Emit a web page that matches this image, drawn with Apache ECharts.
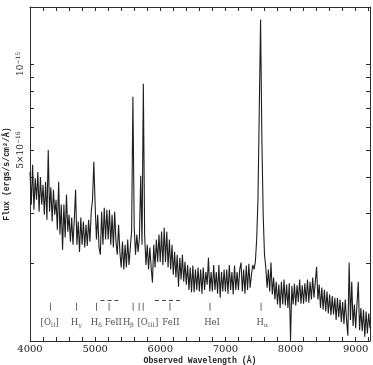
<!DOCTYPE html>
<html>
<head>
<meta charset="utf-8">
<script src="https://cdn.jsdelivr.net/npm/echarts@6/dist/echarts.min.js"></script>
<style>
  html, body { margin: 0; padding: 0; background: #fff; }
  #chart { width: 373px; height: 365px; }
</style>
</head>
<body>
<div id="chart"></div>
<script>
// observed spectrum, flux in units of 1e-16 ergs/s/cm2/A, one sample every 20 A from 4000 A
const waveStart = 4000;
const waveStep = 20;
const flux = [
  4.19, 3.22, 4.44, 3.09, 3.98, 3.35, 4.19, 3.04, 4.02, 3.22,
  3.78, 2.97, 3.87, 2.85, 5.00, 3.04, 3.70, 2.81, 3.63, 2.97,
  3.35, 2.63, 3.87, 2.53, 3.22, 2.24, 3.22, 2.47, 3.49, 2.59,
  2.97, 2.39, 2.90, 2.33, 2.85, 3.63, 2.33, 2.81, 2.20, 2.90,
  2.33, 2.81, 2.28, 2.74, 2.31, 2.85, 2.39, 3.04, 3.35, 4.55,
  3.22, 2.43, 2.97, 2.28, 2.15, 3.04, 2.33, 3.14, 2.43, 3.09,
  2.43, 3.09, 2.33, 2.97, 2.28, 3.04, 2.39, 2.15, 2.74, 2.20,
  1.94, 2.39, 1.91, 2.33, 1.94, 2.43, 1.98, 2.28, 2.59, 7.68,
  2.67, 2.15, 2.53, 2.20, 2.47, 4.06, 2.33, 8.53, 2.53, 1.98,
  2.33, 1.91, 2.28, 1.94, 1.72, 2.33, 1.94, 2.43, 2.03, 2.53,
  2.03, 2.59, 1.98, 2.67, 2.03, 2.59, 1.94, 2.43, 1.91, 2.33,
  1.83, 2.20, 1.79, 2.15, 1.66, 2.10, 1.76, 2.15, 1.73, 2.03,
  1.69, 1.98, 1.62, 1.94, 1.59, 1.97, 1.59, 1.91, 1.62, 1.94,
  1.60, 1.91, 1.57, 1.94, 1.62, 1.87, 1.69, 2.10, 1.60, 1.87,
  1.60, 1.98, 1.62, 1.87, 1.57, 1.98, 1.52, 1.87, 1.60, 1.91,
  1.60, 1.91, 1.57, 1.98, 1.62, 1.87, 1.56, 1.97, 1.62, 1.87,
  1.62, 1.91, 2.02, 1.60, 1.91, 1.57, 1.97, 1.62, 2.00, 1.65,
  1.83, 1.98, 1.91, 2.03, 2.43, 3.35, 6.91, 14.3, 5.43, 2.97,
  2.15, 1.94, 1.65, 1.91, 1.60, 2.02, 1.56, 1.79, 1.50, 1.73,
  1.44, 1.69, 1.40, 1.73, 1.44, 1.76, 1.43, 1.69, 1.40, 1.71,
  1.08, 1.67, 1.44, 1.70, 1.43, 1.68, 1.47, 1.76, 1.45, 1.68,
  1.45, 1.71, 1.47, 1.76, 1.46, 1.73, 1.50, 1.79, 1.52, 1.73,
  1.95, 1.50, 1.69, 1.40, 1.65, 1.38, 1.62, 1.36, 1.60, 1.34,
  1.56, 1.32, 1.54, 1.33, 1.52, 1.27, 1.52, 1.30, 1.50, 1.25,
  1.47, 1.23, 1.50, 1.27, 1.12, 2.02, 1.27, 1.73, 1.21, 1.44,
  1.19, 1.44, 1.73, 1.17, 1.40, 1.16, 1.38, 1.11, 1.36, 1.14,
  1.34, 1.19
];

// axis ranges and ticks
const waveMin = 4000;
const waveMax = 9220;
const waveLabels = [4000, 5000, 6000, 7000, 8000, 9000];
const fluxMin = 1.073;
const fluxMax = 15.83;
const fluxTicks = [2, 3, 4, 5, 6, 7, 8, 9, 10];
const fluxLabels = [5, 10];

// line identifications
const lineTickWave = [4314, 4714, 5021, 5215, 5584, 5676, 5738, 6149, 6764, 7548];
const lineLabelWave = [4303, 4711, 5018, 5280, 5510, 5810, 6164, 6795, 7565];
const lineLabelText = ['[O{sub|II}]', 'H{sub|γ}', 'H{sub|δ}', 'FeII', 'H{sub|β}', '[O{sub|III}]', 'FeII', 'HeI', 'H{sub|α}'];
const feIIRanges = [[5083, 5353], [5918, 6303]];

const lg = (v) => Math.log10(v);
const ink = '#2b2b2b';
const serif = 'DejaVu Serif';
const mono = 'Liberation Mono';

// annotation levels (flux units)
const dashLevel = 1.496;
const tickLevel = 1.414;
const labelLevel = 1.243;

const minorWave = [];
for (let w = 4000; w <= 9200; w += 200) minorWave.push(w);

const specData = flux.map((f, i) => [waveStart + i * waveStep, lg(f)]);

const chart = echarts.init(document.getElementById('chart'));

const xBase = {
  type: 'value',
  min: waveMin,
  max: waveMax,
  axisLine: { show: true, onZero: false, lineStyle: { color: ink, width: 1 } },
  axisTick: { show: true, inside: true, length: 4, customValues: minorWave, lineStyle: { color: ink } },
  splitLine: { show: false }
};
const yBase = {
  type: 'value',
  min: lg(fluxMin),
  max: lg(fluxMax),
  axisLine: { show: true, onZero: false, lineStyle: { color: ink, width: 1 } },
  axisTick: { show: true, inside: true, length: 4, customValues: fluxTicks.map(lg), lineStyle: { color: ink } },
  splitLine: { show: false }
};

const option = {
  animation: false,
  backgroundColor: '#fff',
  grid: { left: 30, right: 3, top: 7, bottom: 24, outerBoundsMode: 'none' },
  xAxis: [
    Object.assign({}, xBase, {
      position: 'bottom',
      axisLabel: {
        show: true,
        customValues: waveLabels,
        formatter: (v) => String(v),
        color: '#1a1a1a',
        fontFamily: serif,
        fontSize: 10,
        margin: 3
      },
      name: 'Observed Wavelength (Å)',
      nameLocation: 'middle',
      nameGap: 16,
      nameMoveOverlap: false,
      nameTextStyle: { fontFamily: mono, fontSize: 8.2, fontWeight: 'bold', color: '#222' }
    }),
    Object.assign({}, xBase, { position: 'top', axisLabel: { show: false } })
  ],
  yAxis: [
    Object.assign({}, yBase, {
      position: 'left',
      axisLabel: {
        show: true,
        customValues: fluxLabels.map(lg),
        rotate: 90,
        margin: 4,
        color: '#222',
        fontFamily: serif,
        fontSize: 9,
        formatter: (v) => (Math.abs(v - 1) < 1e-6 ? '10{sup|−15}' : '5×10{sup|−16}'),
        rich: {
          sup: { fontFamily: serif, fontSize: 6, verticalAlign: 'top', padding: [0, 0, 5, 0], color: '#222' }
        }
      },
      name: 'Flux (ergs/s/cm²/Å)',
      nameLocation: 'middle',
      nameGap: 19,
      nameMoveOverlap: false,
      nameTextStyle: { fontFamily: mono, fontSize: 8.2, fontWeight: 'bold', color: '#222' }
    }),
    Object.assign({}, yBase, { position: 'right', axisLabel: { show: false } })
  ],
  series: [
    {
      type: 'line',
      data: specData,
      showSymbol: false,
      lineStyle: { color: '#1e1e1e', width: 1.1 },
      z: 3
    },
    {
      type: 'scatter',
      symbol: 'rect',
      symbolSize: [1, 8],
      itemStyle: { color: '#444' },
      data: lineTickWave.map((w) => [w, lg(tickLevel)]),
      markLine: {
        silent: true,
        symbol: 'none',
        label: { show: false },
        lineStyle: { color: '#444', width: 1, type: [4, 3] },
        data: feIIRanges.map((r) => [{ coord: [r[0], lg(dashLevel)] }, { coord: [r[1], lg(dashLevel)] }])
      }
    },
    {
      type: 'scatter',
      symbolSize: 0,
      data: lineLabelWave.map((w, i) => ({ value: [w, lg(labelLevel)], name: lineLabelText[i] })),
      label: {
        show: true,
        position: 'inside',
        formatter: (p) => p.name,
        color: '#1a1a1a',
        fontFamily: serif,
        fontSize: 8.5,
        rich: {
          sub: { fontFamily: serif, fontSize: 6, verticalAlign: 'bottom', padding: [5, 0, 0, 0], color: '#1a1a1a' }
        }
      }
    }
  ]
};

chart.setOption(option);
</script>
</body>
</html>
